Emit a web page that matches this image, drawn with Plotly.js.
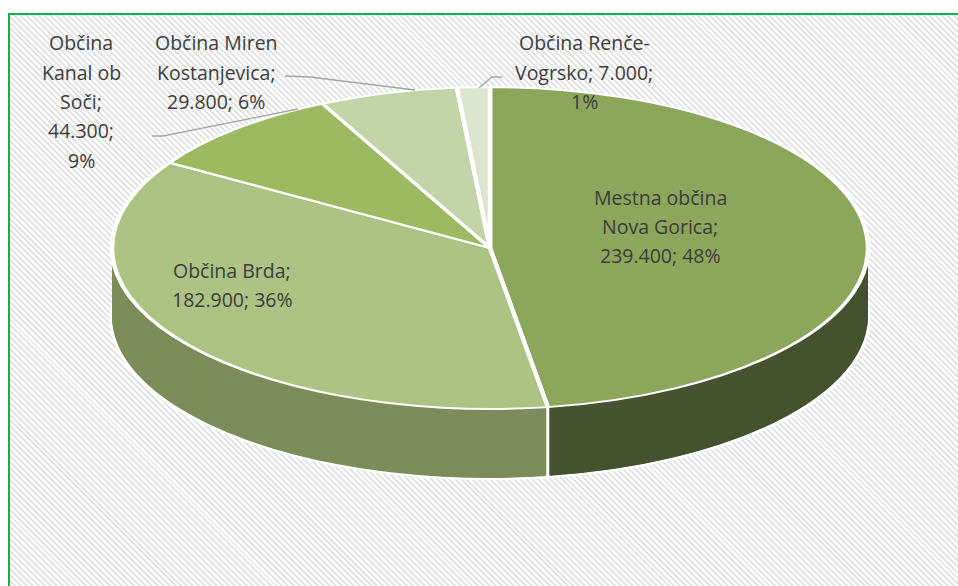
<!DOCTYPE html>
<html>
<head>
<meta charset="utf-8">
<script src="https://cdn.plot.ly/plotly-3.0.1.min.js"></script>
<style>
html,body{margin:0;padding:0;width:958px;height:586px;overflow:hidden;background:#ffffff;}
#frame{position:absolute;left:8px;top:13px;width:980px;height:600px;border:2px solid #12b050;
  background:repeating-linear-gradient(45deg,#ffffff 0px,#ffffff 2.1px,#e5e5e5 2.1px,#e5e5e5 4.2px);}
#pie{position:absolute;left:0;top:0;width:958px;height:1376px;transform:scaleY(0.4259);transform-origin:0 0;}
#labels{position:absolute;left:0;top:0;width:958px;height:586px;}
</style>
</head>
<body>
<div id="frame"></div>
<div id="pie"></div>
<div id="labels"></div>
<script>
// ---- data ----
const names  = ["Mestna občina Nova Gorica", "Občina Brda", "Občina Kanal ob Soči", "Občina Miren Kostanjevica", "Občina Renče-Vogrsko"];
const values = [239400, 182900, 44300, 29800, 7000];

// ---- styling ----
const topColors  = ["#8ca65c", "#acc384", "#9dba63", "#c3d4a9", "#dce5d0"];
const sideColors = ["#47522f", "#7d8c5a", "#6f8a45", "#8e9c78", "#a3ab98"];
const W = 958, H = 586, S = 0.4259, HU = 1376;
const cx = 490, cy = 248, rx = 378, depth = 70;
const ry = rx * S;

function yDom(offU){
  const c = 1 - (cy / S + offU) / HU;
  const h = rx / HU;
  return [c - h, c + h];
}
const xDom = [(cx - rx) / W, (cx + rx) / W];

const traces = [];
const K = 44;
for (let k = K; k >= 1; k--) {
  traces.push({
    type: 'pie', labels: names, values: values, sort: false,
    direction: 'clockwise', rotation: 0,
    domain: {x: xDom, y: yDom(depth / S * k / K)},
    marker: {colors: sideColors, line: {color: '#ffffff', width: k === K ? 5 : 0}},
    textinfo: 'none', hoverinfo: 'skip', showlegend: false
  });
}
traces.push({
  type: 'pie', labels: names, values: values, sort: false,
  direction: 'clockwise', rotation: 0,
  domain: {x: xDom, y: yDom(0)},
  marker: {colors: topColors, line: {color: '#ffffff', width: 4.5}},
  textinfo: 'none', hoverinfo: 'skip', showlegend: false
});

Plotly.newPlot('pie', traces, {
  width: W, height: HU, margin: {l: 0, r: 0, t: 0, b: 0},
  paper_bgcolor: 'rgba(0,0,0,0)', plot_bgcolor: 'rgba(0,0,0,0)', showlegend: false
}, {staticPlot: true, displayModeBar: false});

// ---- data labels ----
const labelPos  = [[660, 197], [232, 270], [81, 43], [216, 43], [584, 43]];
const wrapChars = [13, 12, 8, 13, 15];
const lineGap = 29.3;
const total = values.reduce((a, b) => a + b, 0);
const fmt = v => String(v).replace(/\B(?=(\d{3})+(?!\d))/g, '.');

function wrap(tokens, max){
  const lines = [];
  let line = tokens[0];
  for (let i = 1; i < tokens.length; i++) {
    const cand = line + (line.endsWith('-') ? '' : ' ') + tokens[i];
    if (cand.length <= max) line = cand; else { lines.push(line); line = tokens[i]; }
  }
  lines.push(line);
  return lines;
}

const annotations = [];
names.forEach((n, i) => {
  const words = [];
  n.split(' ').forEach(w => w.split(/(?<=-)/).forEach(p => words.push(p)));
  words[words.length - 1] += ';';
  words.push(fmt(values[i]) + ';');
  words.push(Math.round(values[i] / total * 100) + '%');
  wrap(words, wrapChars[i]).forEach((t, j) => {
    annotations.push({
      xref: 'paper', yref: 'paper', x: labelPos[i][0] / W, y: 1 - (labelPos[i][1] + j * lineGap) / H,
      xanchor: 'center', yanchor: 'middle', showarrow: false, text: t,
      font: {family: '"Open Sans", sans-serif', size: 19.5, color: '#3d3d3d'}
    });
  });
});

const leaderPts = [
  null, null,
  [[152, 136], [163, 136], [298, 109]],
  [[285, 76], [310, 77], [415, 90]],
  [[502, 77], [492, 77], [479, 88]]
];
const shapes = leaderPts.filter(p => p).map(p => ({
  type: 'path', xref: 'paper', yref: 'paper',
  path: p.map((q, j) => (j ? 'L' : 'M') + (q[0] / W).toFixed(5) + ',' + (1 - q[1] / H).toFixed(5)).join(' '),
  line: {color: '#a6a6a6', width: 1.3}
}));

// white seams on the visible side wall, at slice boundaries facing the viewer
let cum = 0;
values.forEach(v => {
  cum += v;
  const a = cum / total * 2 * Math.PI;
  if (Math.cos(a) < -0.05) {
    const px = cx + rx * Math.sin(a);
    const py = cy - ry * Math.cos(a);
    shapes.push({
      type: 'line', xref: 'paper', yref: 'paper',
      x0: px / W, x1: px / W, y0: 1 - py / H, y1: 1 - (py + depth) / H,
      line: {color: '#ffffff', width: 3}
    });
  }
});

Plotly.newPlot('labels', [], {
  width: W, height: H, margin: {l: 0, r: 0, t: 0, b: 0},
  paper_bgcolor: 'rgba(0,0,0,0)', plot_bgcolor: 'rgba(0,0,0,0)',
  xaxis: {visible: false}, yaxis: {visible: false},
  annotations: annotations, shapes: shapes, showlegend: false
}, {staticPlot: true, displayModeBar: false});
</script>
</body>
</html>
